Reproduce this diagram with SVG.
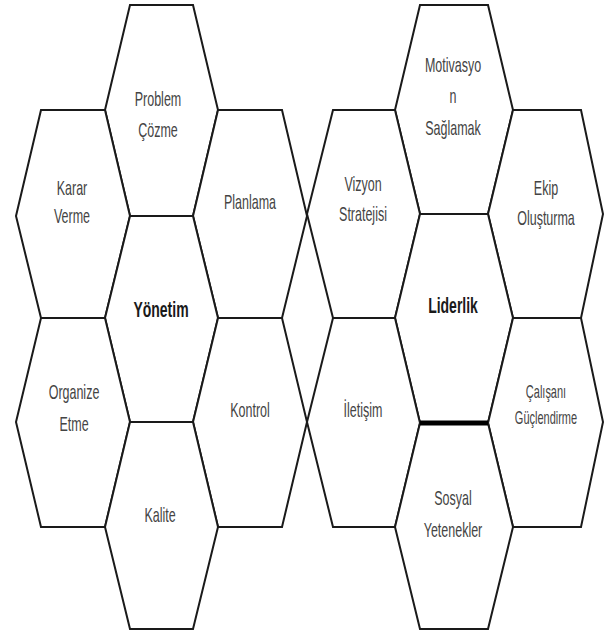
<svg xmlns="http://www.w3.org/2000/svg" width="605" height="635" viewBox="0 0 605 635">
<style>
.hex{fill:#fff;stroke:#1a1a1a;stroke-width:2;stroke-linejoin:miter}
.lbl{font-family:"Liberation Sans",Arial,sans-serif;font-size:12.5px;fill:#444;text-anchor:middle}
.sm{font-size:11px}
.bold{font-family:"Liberation Sans",Arial,sans-serif;font-size:14px;font-weight:bold;fill:#1a1a1a;text-anchor:middle}
</style>
<rect width="605" height="635" fill="#fff"/>
<g id="yonetim-cluster">
<g id="problem-cozme">
<polygon class="hex" points="130,5 193,5 218,110 193,216 130,216 105,110"/>
<g transform="translate(158,106) scale(1,1.6)"><text class="lbl">Problem</text></g>
<g transform="translate(158,137) scale(1,1.6)"><text class="lbl">Çözme</text></g>
</g>
<g id="karar-verme">
<polygon class="hex" points="41,110 105,110 130,216 105,318 41,318 16,216"/>
<g transform="translate(72,195) scale(1,1.6)"><text class="lbl">Karar</text></g>
<g transform="translate(72,223) scale(1,1.6)"><text class="lbl">Verme</text></g>
</g>
<g id="planlama">
<polygon class="hex" points="218,110 282,110 307,216 282,318 218,318 193,216"/>
<g transform="translate(250,209) scale(1,1.6)"><text class="lbl">Planlama</text></g>
</g>
<g id="yonetim">
<polygon class="hex" points="130,216 193,216 218,318 193,422 130,422 105,318"/>
<g transform="translate(161,317) scale(1,1.6)"><text class="bold">Yönetim</text></g>
</g>
<g id="organize-etme">
<polygon class="hex" points="41,318 105,318 130,422 105,527 41,527 16,422"/>
<g transform="translate(74,399) scale(1,1.6)"><text class="lbl">Organize</text></g>
<g transform="translate(74,431) scale(1,1.6)"><text class="lbl">Etme</text></g>
</g>
<g id="kontrol">
<polygon class="hex" points="218,318 282,318 307,422 282,527 218,527 193,422"/>
<g transform="translate(250,417) scale(1,1.6)"><text class="lbl">Kontrol</text></g>
</g>
<g id="kalite">
<polygon class="hex" points="130,422 193,422 218,527 193,629 130,629 105,527"/>
<g transform="translate(160,522) scale(1,1.6)"><text class="lbl">Kalite</text></g>
</g>
</g>
<g id="liderlik-cluster">
<g id="motivasyon">
<polygon class="hex" points="420,5 488,5 513,110 488,214 420,214 395,110"/>
<g transform="translate(453,72) scale(1,1.6)"><text class="lbl">Motivasyo</text></g>
<g transform="translate(453,103) scale(1,1.6)"><text class="lbl">n</text></g>
<g transform="translate(453,135) scale(1,1.6)"><text class="lbl">Sağlamak</text></g>
</g>
<g id="vizyon">
<polygon class="hex" points="333,110 395,110 420,214 395,318 333,318 307,214"/>
<g transform="translate(363,191) scale(1,1.6)"><text class="lbl">Vizyon</text></g>
<g transform="translate(363,221) scale(1,1.6)"><text class="lbl">Stratejisi</text></g>
</g>
<g id="ekip">
<polygon class="hex" points="513,110 581,110 603,214 581,318 513,318 488,214"/>
<g transform="translate(546,195) scale(1,1.6)"><text class="lbl">Ekip</text></g>
<g transform="translate(546,225) scale(1,1.6)"><text class="lbl">Oluşturma</text></g>
</g>
<g id="liderlik">
<polygon class="hex" points="420,214 488,214 513,318 488,423 420,423 395,318"/>
<g transform="translate(453,313) scale(1,1.6)"><text class="bold">Liderlik</text></g>
</g>
<g id="iletisim">
<polygon class="hex" points="333,318 395,318 420,423 395,527 333,527 307,422"/>
<g transform="translate(363,417) scale(1,1.6)"><text class="lbl">İletişim</text></g>
</g>
<g id="calisani">
<polygon class="hex" points="513,318 581,318 603,422 581,527 513,527 488,423"/>
<g transform="translate(546,398) scale(1,1.6)"><text class="lbl sm">Çalışanı</text></g>
<g transform="translate(546,424) scale(1,1.6)"><text class="lbl sm">Güçlendirme</text></g>
</g>
<g id="sosyal">
<polygon class="hex" points="420,423 488,423 513,527 488,629 420,629 395,527"/>
<g transform="translate(453,505) scale(1,1.6)"><text class="lbl">Sosyal</text></g>
<g transform="translate(453,537) scale(1,1.6)"><text class="lbl">Yetenekler</text></g>
</g>
</g>
<g id="connectors">
<line x1="420" y1="423" x2="488" y2="423" stroke="#000" stroke-width="5"/>
</g>
</svg>
